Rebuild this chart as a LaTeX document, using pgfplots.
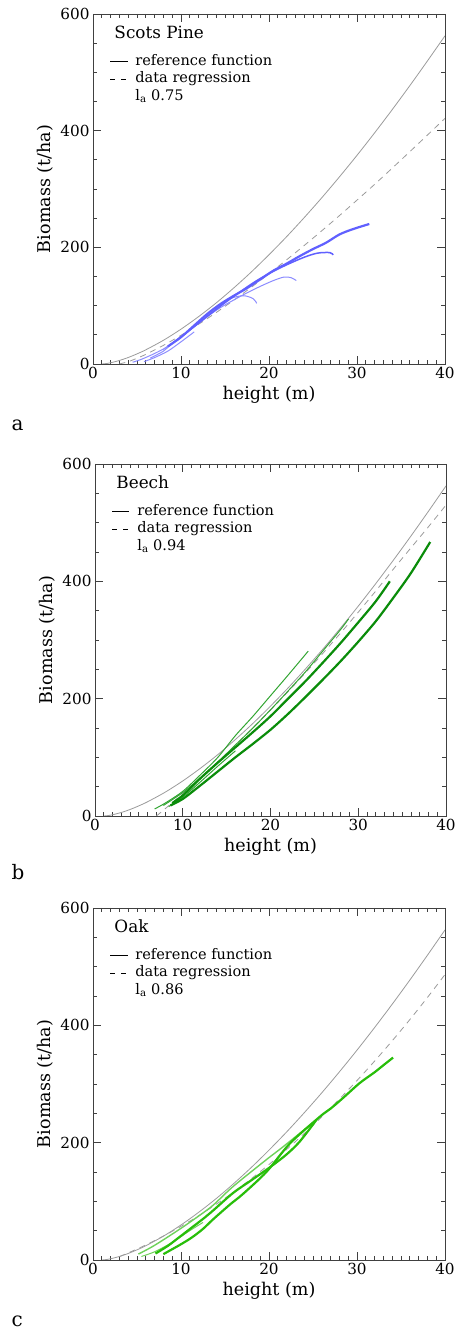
\documentclass[border=0pt]{standalone}
\usepackage{fontspec}
\setmainfont{DejaVu Serif}
\usepackage{pgfplots}
\pgfplotsset{compat=1.18}
\definecolor{refgray}{RGB}{155,155,155}
\definecolor{pineA}{RGB}{96,96,255}
\definecolor{pineB}{RGB}{140,140,255}
\definecolor{beechA}{RGB}{10,140,10}
\definecolor{beechB}{RGB}{50,165,50}
\definecolor{oakA}{RGB}{40,190,10}
\definecolor{oakB}{RGB}{110,210,90}
\pgfplotsset{
 panel/.style={
  scale only axis, width=352bp, height=350bp,
  xmin=0,xmax=40,ymin=0,ymax=600,
  xtick={0,10,20,30,40}, ytick={0,200,400,600},
  minor x tick num=9, minor y tick num=3,
  tick align=inside, major tick length=8bp, minor tick length=4bp,
  axis line style={black!75, line width=0.9bp},
  every tick/.append style={black!75, line width=0.8bp},
  tick label style={font=\fontsize{15.3}{18}\selectfont},
  /pgf/number format/assume math mode=true,
  xlabel={height (m)}, ylabel={Biomass (t/ha)},
  label style={font=\fontsize{17.6}{20}\selectfont},
  legend style={at={(rel axis cs:0.048,0.89)}, anchor=north west, draw=none, fill=none,
    font=\fontsize{14.6}{17}\selectfont, row sep=0pt, column sep=6bp, inner sep=0pt,
    nodes={inner sep=1.5bp, text height=11bp, text depth=3.5bp}},
  legend cell align=left,
 },
 refl/.style={refgray, line width=0.8bp, smooth, forget plot},
 regl/.style={refgray, line width=0.8bp, dash pattern=on 6bp off 5bp, smooth, forget plot},
 thick/.style={line width=2.2bp, smooth, forget plot},
 thin/.style={line width=1bp, smooth, forget plot},
}
\newcommand{\refcurve}{\addplot[refl] coordinates {(1,0) (1.5,0.7) (2,2.1) (3,6.0) (4,11.1) (5,17.3) (6,24.3) (8,40.6) (10,59.7) (12,81.2) (14,104.7) (16,130.4) (18,157.9) (20,187.3) (22,218.2) (24,250.9) (26,285.0) (28,320.7) (30,357.7) (32,396.2) (34,436.0) (36,477.1) (38,519.4) (40,562.6)};}
\newcommand{\legendset}[1]{%
 \addlegendimage{black, line width=0.8bp}
 \addlegendentry{reference function}
 \addlegendimage{black, line width=0.8bp, dash pattern=on 5bp off 6bp}
 \addlegendentry{data regression}
 \addlegendimage{empty legend}
 \addlegendentry{l\textsubscript{a} #1}}
\begin{document}
\begin{tikzpicture}
\path[use as bounding box] (0,0) rectangle (457bp,1331bp);
% ---------------- a: Scots Pine
\begin{axis}[panel, at={(93bp,1317bp)}, anchor=north west]
\legendset{0.75}
\refcurve
\addplot[regl] coordinates {(3,0) (4,4.0) (5,9.8) (6,16.5) (8,31.9) (10,49.2) (12,68.1) (14,88.2) (16,109.4) (18,131.6) (20,154.8) (22,178.6) (24,203.1) (26,228.4) (28,254.3) (30,280.9) (32,307.9) (34,335.7) (36,363.9) (38,392.4) (40,421.0)};
\addplot[pineB, thin] coordinates {(4.5,3) (5.5,8) (7,18) (8.5,30) (10,47)};
\addplot[pineB, thin] coordinates {(5.8,4) (7,11) (8.5,22) (10,38) (11.5,55)};
\addplot[pineB, thin] coordinates {(6.5,10) (8,22) (9,35) (12,70) (14,95) (15.6,112) (17.1,117) (18.2,112) (18.6,104)};
\addplot[pineB, thin] coordinates {(8,25) (11,58) (14,92) (17,118) (19,133) (20.5,143) (21.7,149) (22.5,148) (23.1,143)};
\addplot[pineA, line width=1.5bp, smooth, forget plot] coordinates {(9.5,40) (12,70) (15,105) (18,137) (20,155) (22,170) (24,183) (25.5,190) (26.9,191) (27.3,187)};
\addplot[pineA, thick] coordinates {(8.5,30) (10,46) (11.5,66) (13,86) (14.5,103) (16,117) (17.5,130) (19,145) (20.5,160) (22,172) (23.5,185) (25,197) (26.5,208) (28,222) (29.5,231) (31.4,240)};
\node[anchor=base west, font=\fontsize{16.9}{20}\selectfont] at (rel axis cs:0.051,0.929) {Scots Pine};
\end{axis}
% ---------------- b: Beech
\begin{axis}[panel, at={(95bp,867bp)}, anchor=north west, width=351bp, height=352bp]
\legendset{0.94}
\refcurve
\addplot[regl] coordinates {(7,0) (8,12.4) (10,38.1) (12,64.6) (14,92.2) (16,120.7) (18,150.2) (20,180.6) (22,212.0) (24,244.4) (26,277.8) (28,312.1) (30,347.4) (32,383.6) (34,420.8) (36,457) (38,493) (40,530)};
\addplot[beechB, thin] coordinates {(6.8,12) (8,22) (10,42) (12,70) (14,100) (16,137) (18,170) (19.94,204) (22,240) (24.3,281)};
\addplot[beechB, thin] coordinates {(7.8,18) (10,40) (12,65) (14,92) (16,121) (18,150) (20,181) (22,213) (24,246) (26,282) (28,318) (28.9,336)};
\addplot[beechB, thin] coordinates {(8.4,16) (10,32) (12,58) (14,85) (16,111)};
\addplot[beechA, thick] coordinates {(8.8,22) (10,35) (12,64) (14,91) (16,117) (18,143) (20,170) (22,200) (24,230) (26,262) (28,295) (30,330) (32,366) (33.6,400)};
\addplot[beechA, thick] coordinates {(8.6,18) (10,29) (12,52) (14,76) (16,100) (18,123) (20,147) (22,174) (24,203) (26,233) (28,264) (30,297) (32,332) (34,372) (36,414) (38.2,467)};
\node[anchor=base west, font=\fontsize{16.9}{20}\selectfont] at (rel axis cs:0.051,0.929) {Beech};
\end{axis}
% ---------------- c: Oak
\begin{axis}[panel, at={(93bp,423bp)}, anchor=north west, height=352bp]
\legendset{0.86}
\refcurve
\addplot[regl] coordinates {(3,5.8) (4,12.1) (6,25.6) (8,40.8) (10,57.3) (12,75.4) (14,95.0) (16,116.0) (18,138.7) (20,162.8) (22,188.4) (24,215.5) (26,244.1) (28,274.3) (30,305.9) (32,339.0) (34,373.6) (36,409.7) (38,447.4) (40,486.6)};
\addplot[oakB, thin] coordinates {(5.5,6) (7,14) (9,30) (11,50) (12.5,64)};
\addplot[oakB, line width=1.4bp, smooth, forget plot] coordinates {(5.15,10) (7,25) (9.9,53) (12.2,77) (13.7,94) (15.9,125) (19.7,171) (21.6,193) (25.4,239)};
\addplot[oakA, thick] coordinates {(7.1,11) (8.5,24) (9.9,40) (11.2,55) (12.5,70) (13.7,85) (15.9,114) (18,136) (20.1,158) (22,180) (23.5,202) (25.4,239)};
\addplot[oakA, thick] coordinates {(8.0,10) (9.9,26) (11.2,38) (12.5,53) (13.7,70) (15.6,95) (17,112) (19.7,150) (22.4,199) (25.8,244.5) (27,258) (28.4,276) (30.3,301.5) (32,320) (33,332) (34.1,345)};
\node[anchor=base west, font=\fontsize{16.9}{20}\selectfont] at (rel axis cs:0.051,0.929) {Oak};
\end{axis}
\node[font=\fontsize{20}{24}\selectfont, anchor=base west] at (8bp,{(1331-431)*1bp}) {a};
\node[font=\fontsize{20}{24}\selectfont, anchor=base west] at (8bp,{(1331-880)*1bp}) {b};
\node[font=\fontsize{20}{24}\selectfont, anchor=base west] at (8bp,{(1331-1326)*1bp}) {c};
\end{tikzpicture}
\end{document}
